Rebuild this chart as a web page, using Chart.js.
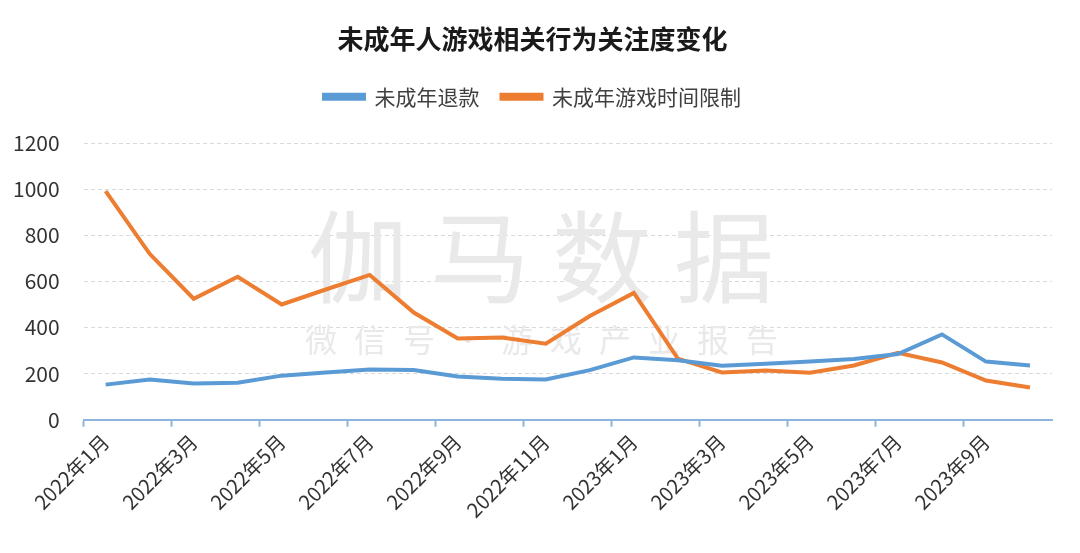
<!DOCTYPE html>
<html>
<head>
<meta charset="utf-8">
<script src="https://cdn.jsdelivr.net/npm/chart.js@4/dist/chart.umd.min.js"></script>
<style>
  html, body { margin: 0; padding: 0; background: #fff; }
  #wrap { width: 1080px; height: 553px; }
</style>
</head>
<body>
<div id="wrap"><canvas id="myChart" width="1080" height="553"></canvas></div>
<script>
const months = [
  '2022年1月', '2022年2月', '2022年3月', '2022年4月', '2022年5月', '2022年6月',
  '2022年7月', '2022年8月', '2022年9月', '2022年10月', '2022年11月', '2022年12月',
  '2023年1月', '2023年2月', '2023年3月', '2023年4月', '2023年5月', '2023年6月',
  '2023年7月', '2023年8月', '2023年9月', '2023年10月',
];
const refund = [
  152, 174, 157, 160, 191, 205, 218, 215, 187, 178, 174, 215,
  270, 258, 234, 243, 252, 263, 285, 370, 252, 235,
];
const timeLimit = [
  992, 720, 525, 620, 500, 565, 628, 465, 352, 357, 330, 450,
  550, 265, 205, 213, 204, 235, 290, 248, 170, 140,
];
const yTicks = [0, 200, 400, 600, 800, 1000, 1200];

const FONT = '"Noto Sans CJK SC", "Noto Sans", sans-serif';
const chart = document.querySelector('#myChart');

// faint watermark behind the lines
const watermark = {
  id: 'watermark',
  beforeDatasetsDraw(c) {
    const ctx = c.ctx;
    ctx.save();
    ctx.fillStyle = '#e9e9e9';
    ctx.textAlign = 'center';
    ctx.textBaseline = 'middle';
    ctx.font = '100px ' + FONT;
    ctx.letterSpacing = '22px';
    ctx.fillText('伽马数据', 552, 257);
    ctx.font = '32px ' + FONT;
    ctx.letterSpacing = '17px';
    ctx.fillText('微信号·游戏产业报告', 550, 340);
    ctx.restore();
  },
};

// extra room under the legend
const legendMargin = {
  id: 'legendMargin',
  beforeInit(c) {
    const fit = c.legend.fit;
    c.legend.fit = function () {
      fit.bind(c.legend)();
      this.height += 26;
    };
  },
};

new Chart(chart, {
  type: 'line',
  data: {
    labels: months,
    datasets: [
      {
        label: '未成年退款',
        data: refund,
        borderColor: '#5b9bd5',
        backgroundColor: '#5b9bd5',
        borderWidth: 4,
        pointRadius: 0,
        tension: 0,
      },
      {
        label: '未成年游戏时间限制',
        data: timeLimit,
        borderColor: '#ed7d31',
        backgroundColor: '#ed7d31',
        borderWidth: 4,
        pointRadius: 0,
        tension: 0,
      },
    ],
  },
  options: {
    responsive: false,
    animation: false,
    layout: { padding: { left: 13, right: 28, bottom: 28 } },
    plugins: {
      title: {
        display: true,
        text: '未成年人游戏相关行为关注度变化',
        color: '#1a1a1a',
        font: { family: FONT, size: 26, weight: 'bold' },
        padding: { top: 24, bottom: 9 },
      },
      legend: {
        labels: {
          color: '#404040',
          font: { family: FONT, size: 21 },
          boxWidth: 40,
          boxHeight: 4,
          padding: 22,
        },
      },
      tooltip: { enabled: false },
    },
    scales: {
      x: {
        offset: true,
        border: { color: '#8db3df', width: 2 },
        grid: {
          offset: true,
          drawOnChartArea: false,
          tickLength: 7,
          tickWidth: 2,
          tickColor: (ctx) => (ctx.index % 2 === 0 ? '#8db3df' : 'rgba(0,0,0,0)'),
        },
        ticks: {
          autoSkip: false,
          maxRotation: 45,
          minRotation: 45,
          color: '#333',
          font: { family: FONT, size: 20 },
          callback: (val, i) => (i % 2 === 0 ? months[i] : ''),
        },
      },
      y: {
        min: 0,
        max: 1200,
        afterBuildTicks: (axis) => {
          axis.ticks = yTicks.map((v) => ({ value: v }));
        },
        // chart.js counts the tick padding on both sides, keep only one
        afterFit: (axis) => {
          axis.width -= axis.options.ticks.padding;
        },
        border: { display: false, dash: [4, 3] },
        grid: { color: '#d9d9d9', drawTicks: false },
        ticks: {
          color: '#333',
          padding: 24,
          font: { family: FONT, size: 21 },
          callback: (v) => String(v),
        },
      },
    },
  },
  plugins: [watermark, legendMargin],
});
</script>
</body>
</html>
